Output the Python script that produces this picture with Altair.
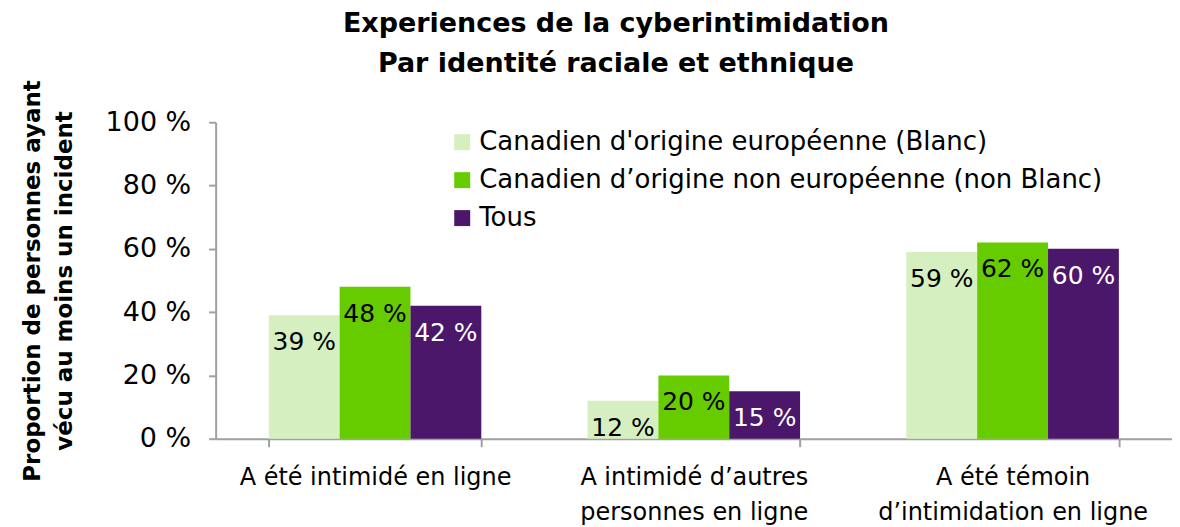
import altair as alt
import pandas as pd

categories = ["A été intimidé en ligne", "A intimidé d’autres|personnes en ligne", "A été témoin|d’intimidation en ligne"]
series = ["Canadien d'origine européenne (Blanc)", "Canadien d’origine non européenne (non Blanc)", "Tous"]
values = {
    series[0]: [39, 12, 59],
    series[1]: [48, 20, 62],
    series[2]: [42, 15, 60],
}
colors = ["#D5EFC0", "#66CC00", "#4B176A"]
label_colors = ["black", "black", "white"]

rows = []
for s in series:
    for c, v in zip(categories, values[s]):
        rows.append({"cat": c, "series": s, "value": v / 100.0, "label": f"{v} %"})
df = pd.DataFrame(rows)

FONT = "DejaVu Sans"

x = alt.X("cat:N", sort=categories, title=None,
          scale=alt.Scale(paddingInner=1/3, paddingOuter=1/6),
          axis=alt.Axis(labelExpr="split(datum.label, '|')", labelAngle=0,
                        labelFontSize=24, labelFont=FONT, labelColor="black",
                        labelLineHeight=35, labelPadding=19, tickBand="extent",
                        tickSize=8, tickColor="#A0A0A0", tickWidth=2, labelLimit=400,
                        domainColor="#A0A0A0", domainWidth=2, labelBaseline="top"))
y = alt.Y("value:Q", title=["Proportion de personnes ayant", "vécu au moins un incident"],
          scale=alt.Scale(domain=[0, 1]),
          axis=alt.Axis(values=[0, 0.2, 0.4, 0.6, 0.8, 1.0], labelExpr="format(datum.value*100, 'd') + ' %'",
                        grid=False, labelFontSize=27, labelFont=FONT, labelColor="black",
                        labelPadding=18, tickSize=7, tickColor="#A0A0A0", tickWidth=2,
                        domainColor="#A0A0A0", domainWidth=2,
                        titleFontSize=23, titleFont=FONT, titleFontWeight="bold",
                        titleColor="black", titlePadding=29, titleLineHeight=32))

bars = alt.Chart(df).mark_bar().encode(
    x=x, y=y,
    xOffset=alt.XOffset("series:N", sort=series),
    color=alt.Color("series:N", sort=series,
                    scale=alt.Scale(domain=series, range=colors),
                    legend=alt.Legend(title=None, orient="none", legendX=234, legendY=7,
                                      symbolType="square", symbolSize=256, symbolStrokeWidth=0,
                                      labelFontSize=26, labelFont=FONT, labelColor="black",
                                      rowPadding=12, labelOffset=4, labelLimit=800)),
)

text = alt.Chart(df).mark_text(dy=27, baseline="middle", fontSize=25, font=FONT).encode(
    x=x, y=y,
    xOffset=alt.XOffset("series:N", sort=series),
    text="label:N",
    color=alt.Color("series:N", scale=alt.Scale(domain=series, range=label_colors), legend=None),
)

chart = alt.layer(bars, text).resolve_scale(color="independent").properties(
    width=958, height=317,
    padding={"left": 13, "top": 1, "right": 0, "bottom": 0},
    title=alt.TitleParams(text=["Experiences de la cyberintimidation", "Par identité raciale et ethnique"],
                          fontSize=27, font=FONT, fontWeight="bold", color="black",
                          anchor="middle", frame="group", dx=-78, lineHeight=40, offset=2),
).configure_view(stroke=None)

chart.save("out.html", embed_options={"renderer": "svg", "actions": False})
